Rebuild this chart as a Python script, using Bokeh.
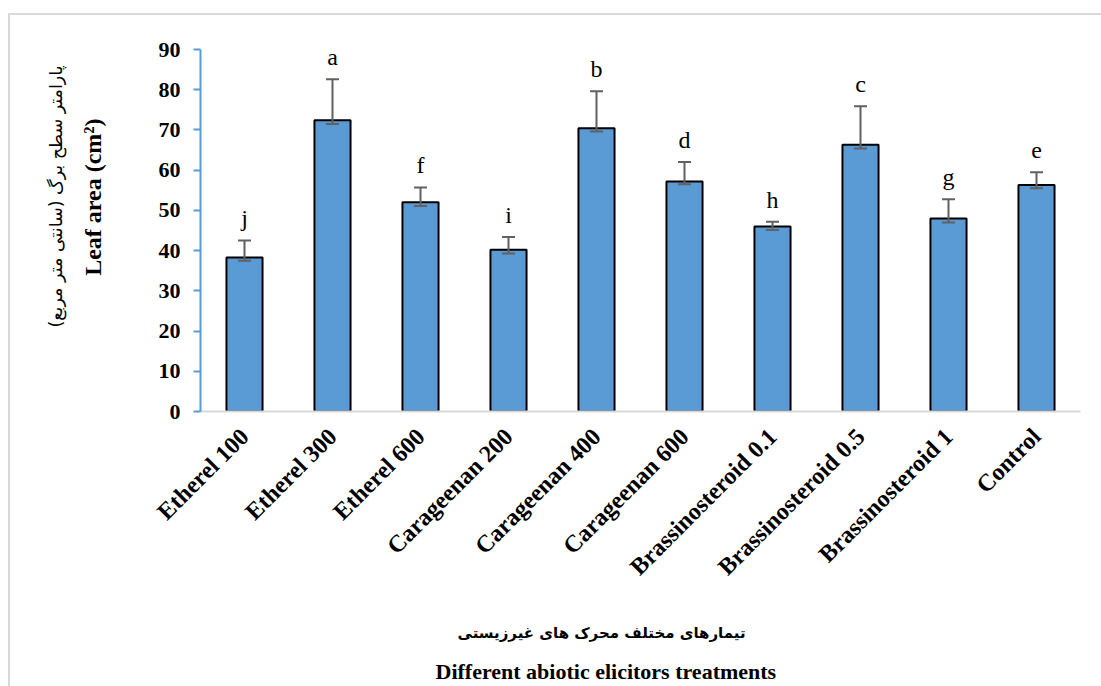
import math
from bokeh.plotting import figure
from bokeh.models import (ColumnDataSource, FactorRange, Range1d, FixedTicker,
                          Whisker, TeeHead, Title, LinearAxis)
from bokeh.core.properties import value
from bokeh.embed import file_html
from bokeh.resources import INLINE

# Treatments and measured leaf area (cm^2)
treatments = ["Etherel 100", "Etherel 300", "Etherel 600", "Carageenan 200",
              "Carageenan 400", "Carageenan 600", "Brassinosteroid 0.1",
              "Brassinosteroid 0.5", "Brassinosteroid 1", "Control"]
leaf_area = [38.3, 72.4, 52.0, 40.2, 70.4, 57.2, 46.0, 66.3, 48.0, 56.3]
err_upper = [42.5, 82.6, 55.7, 43.4, 79.6, 62.0, 47.2, 75.9, 52.8, 59.5]
err_lower = [37.5, 71.5, 51.1, 39.3, 69.6, 56.5, 45.1, 65.4, 47.0, 55.5]
groups = ["j", "a", "f", "i", "b", "d", "h", "c", "g", "e"]
y_ticks = [0, 10, 20, 30, 40, 50, 60, 70, 80, 90]

SERIF = "Liberation Serif"
ARABIC = "DejaVu Sans"
BAR_BLUE = "#5B9BD5"
ERR_GREY = "#616161"

# letters sit a little above the top of each error bar
letter_y = [u + 5.5 for u in err_upper]

src = ColumnDataSource(dict(cat=treatments, val=leaf_area, upper=err_upper,
                            lower=err_lower, grp=groups, ly=letter_y))

p = figure(x_range=FactorRange(*treatments), y_range=Range1d(0, 90),
           width=1091, height=671, output_backend="svg", toolbar_location=None,
           min_border_left=190, min_border_right=21, min_border_top=34,
           min_border_bottom=275, margin=(15, 0, 0, 10),
           styles={"outline": "2px solid #d9d9d9"})
p.background_fill_color = "white"
p.border_fill_color = "white"
p.outline_line_color = None
p.grid.grid_line_color = None

p.vbar(x="cat", top="val", width=0.41, source=src, fill_color=BAR_BLUE,
       line_color="black", line_width=2)

whisk = Whisker(source=src, base="cat", upper="upper", lower="lower",
                dimension="height", line_color=ERR_GREY, line_width=2,
                level="annotation",
                upper_head=TeeHead(size=13, line_color=ERR_GREY, line_width=2),
                lower_head=TeeHead(size=13, line_color=ERR_GREY, line_width=2))
p.add_layout(whisk)

p.text(x="cat", y="ly", text="grp", source=src,
       text_align="center", text_baseline="alphabetic",
       text_font=value(SERIF), text_font_size="24px", text_color="black")

# y axis
ya = p.yaxis[0]
ya.ticker = FixedTicker(ticks=y_ticks)
ya.axis_line_color = BAR_BLUE
ya.axis_line_width = 2
ya.major_tick_line_color = BAR_BLUE
ya.major_tick_line_width = 2
ya.major_tick_out = 7
ya.major_tick_in = 0
ya.minor_tick_line_color = None
ya.major_label_standoff = 13
ya.major_label_text_font = SERIF
ya.major_label_text_font_style = "bold"
ya.major_label_text_font_size = "22px"
ya.major_label_text_color = "black"

# x axis
xa = p.xaxis[0]
xa.axis_line_color = "#d9d9d9"
xa.axis_line_width = 2
xa.major_tick_line_color = None
xa.major_tick_out = 0
xa.major_tick_in = 0
xa.major_label_orientation = math.pi / 4
xa.major_label_standoff = 21
xa.major_label_text_font = SERIF
xa.major_label_text_font_style = "bold"
xa.major_label_text_font_size = "24px"
xa.major_label_text_color = "black"

# blank axes used only as gaps between the tick labels and the titles
p.extra_y_ranges = {"gap": Range1d(0, 1)}


def gap_axis(size, tick, **kw):
    return LinearAxis(ticker=FixedTicker(ticks=[tick]), axis_line_color=None,
                      major_tick_line_color="white", minor_tick_line_color=None,
                      major_tick_out=size, major_tick_in=0, minor_tick_out=0,
                      major_label_standoff=0, major_label_text_color=None, **kw)


p.add_layout(gap_axis(50, 0.5, y_range_name="gap"), "left")
p.add_layout(gap_axis(17, 5.0), "below")

# y titles: English next to the axis, Persian outside it
p.add_layout(Title(text="Leaf area (cm²)", align="right", offset=69,
                   vertical_align="bottom", standoff=0,
                   text_font=SERIF, text_font_style="bold",
                   text_font_size="24px", text_color="black"), "left")
p.add_layout(Title(text="پارامتر سطح برگ (سانتی متر مربع)", align="right",
                   offset=16, vertical_align="bottom", standoff=23,
                   text_font=ARABIC, text_font_style="normal",
                   text_font_size="17.5px", text_color="black"), "left")

# x titles: Persian first, English under it
p.add_layout(Title(text="تیمارهای مختلف محرک های غیرزیستی", align="left",
                   offset=257, vertical_align="top", standoff=29,
                   text_font=ARABIC, text_font_style="bold",
                   text_font_size="15px", text_color="black"), "below")
p.add_layout(Title(text="Different abiotic elicitors treatments", align="left",
                   offset=235, vertical_align="top", standoff=0,
                   text_font=SERIF, text_font_style="bold",
                   text_font_size="22px", text_color="black"), "below")

open("out.html", "w").write(file_html(p, INLINE))
